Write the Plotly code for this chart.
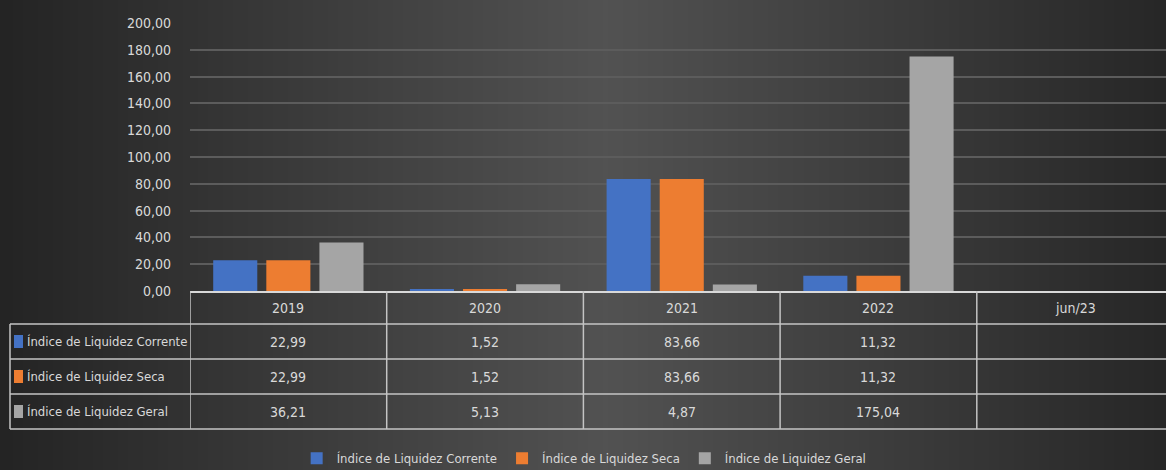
import base64, struct, zlib
import plotly.graph_objects as go

# ---------------- data ----------------
categories = ["2019", "2020", "2021", "2022", "jun/23"]
series_names = ["Índice de Liquidez Corrente", "Índice de Liquidez Seca", "Índice de Liquidez Geral"]
corrente = [22.99, 1.52, 83.66, 11.32, None]
seca = [22.99, 1.52, 83.66, 11.32, None]
geral = [36.21, 5.13, 4.87, 175.04, None]
series_values = [corrente, seca, geral]
colors = ["#4472c4", "#ed7d31", "#a5a5a5"]
y_ticks = list(range(0, 201, 20))

# ---------------- layout geometry (pixels) ----------------
W, H = 1166, 470
PL, PR_EDGE = 190, 1166          # plot area left / right in px
PT, PB = 23, 291                 # plot area top / bottom in px
PW, PH = PR_EDGE - PL, PB - PT
CATW = 196.7                     # category width in px
TABLE_LEFT = 10
ROW_LINES = [324, 359, 394, 429]
ROW_CENTERS = [341.5, 376.5, 411.5]
HEADER_CENTER = 307.5
FONT = "Liberation Sans Narrow, DejaVu Sans Condensed, Arial Narrow, sans-serif"
TXT = "#d9d9d9"
LINE = "#c4c4c4"


def px_x(p):
    return (p - PL) / PW


def px_y(p):
    return (PB - p) / PH


def fmt(v):
    return "" if v is None else f"{v:.2f}".replace(".", ",")


# ---------------- background gradient image ----------------
def make_png(w, h, pix):
    raw = b"".join(b"\x00" + bytes(row) for row in pix)

    def chunk(t, d):
        c = struct.pack(">I", len(d)) + t + d
        return c + struct.pack(">I", zlib.crc32(t + d) & 0xFFFFFFFF)

    return (b"\x89PNG\r\n\x1a\n" + chunk(b"IHDR", struct.pack(">IIBBBBB", w, h, 8, 2, 0, 0, 0))
            + chunk(b"IDAT", zlib.compress(raw)) + chunk(b"IEND", b""))


GW, GH = 233, 2
stops = [(0.0, 0x24), (0.52, 0x52), (1.0, 0x27)]
pix = []
for r in range(GH):
    row = []
    for c in range(GW):
        t = c / (GW - 1)
        for (t0, v0), (t1, v1) in zip(stops[:-1], stops[1:]):
            if t0 <= t <= t1:
                v = int(round(v0 + (v1 - v0) * (t - t0) / (t1 - t0)))
                break
        row += [v, v, v]
    pix.append(row)
bg_uri = "data:image/png;base64," + base64.b64encode(make_png(GW, GH, pix)).decode()

# ---------------- figure ----------------
fig = go.Figure()
for name, vals, col in zip(series_names, series_values, colors):
    fig.add_trace(go.Bar(x=categories, y=vals, name=name, marker=dict(color=col, line=dict(width=0))))

n_vis = PW / CATW
fig.update_layout(
    width=W, height=H,
    margin=dict(l=PL, r=W - PR_EDGE, t=PT, b=H - PB, pad=0),
    paper_bgcolor="#333333", plot_bgcolor="rgba(0,0,0,0)",
    separators=",.",
    barmode="group", bargap=0.19, bargroupgap=0.17,
    font=dict(family=FONT, size=14, color=TXT),
    xaxis=dict(type="category", categoryorder="array", categoryarray=categories,
               range=[-0.5, -0.5 + n_vis], showticklabels=False, showgrid=False,
               showline=True, linecolor="#d9d9d9", linewidth=2, ticks="", zeroline=False, fixedrange=True),
    yaxis=dict(range=[0, 200], tickvals=y_ticks, tickformat=".2f", showgrid=True,
               gridcolor="#5c5c5c", gridwidth=1.5, zeroline=False, showline=False,
               ticks="", ticklabelstandoff=18, tickfont=dict(family=FONT, size=14, color=TXT)),
    showlegend=True,
    legend=dict(orientation="h", xref="container", yref="container", x=0.501, y=0.025,
                xanchor="center", yanchor="middle", font=dict(family=FONT, size=13, color=TXT),
                bgcolor="rgba(0,0,0,0)", itemwidth=30, traceorder="normal"),
    images=[dict(source=bg_uri, xref="paper", yref="paper", x=px_x(0), y=px_y(0),
                 sizex=W / PW, sizey=H / PH, xanchor="left", yanchor="top",
                 sizing="stretch", layer="below")],
)

shapes = []
# vertical lines of the data table (category boundaries)
for i in range(len(categories) + 1):
    shapes.append(dict(type="line", xref="x", yref="paper", x0=i - 0.5, x1=i - 0.5,
                       y0=px_y(PB), y1=px_y(ROW_LINES[-1]), line=dict(color=LINE, width=1.5)))
# left border of row-label column
shapes.append(dict(type="line", xref="paper", yref="paper", x0=px_x(TABLE_LEFT), x1=px_x(TABLE_LEFT),
                   y0=px_y(ROW_LINES[0]), y1=px_y(ROW_LINES[-1]), line=dict(color=LINE, width=1.5)))
# horizontal row lines
for yl in ROW_LINES:
    shapes.append(dict(type="line", xref="paper", yref="paper", x0=px_x(TABLE_LEFT), x1=1.05,
                       y0=px_y(yl), y1=px_y(yl), line=dict(color=LINE, width=1.5)))
# legend keys inside the table
for yc, col in zip(ROW_CENTERS, colors):
    shapes.append(dict(type="rect", xref="paper", yref="paper", x0=px_x(14), x1=px_x(23),
                       y0=px_y(yc + 6.5), y1=px_y(yc - 6.5), fillcolor=col, line=dict(width=0)))
fig.update_layout(shapes=shapes)

ann = []
for i, c in enumerate(categories):
    ann.append(dict(x=i, xref="x", y=px_y(HEADER_CENTER), yref="paper", text=c, showarrow=False,
                    xanchor="center", yanchor="middle", font=dict(family=FONT, size=14, color=TXT)))
for name, vals, yc in zip(series_names, series_values, ROW_CENTERS):
    ann.append(dict(x=px_x(25), xref="paper", y=px_y(yc), yref="paper", text=name, showarrow=False,
                    xanchor="left", yanchor="middle", font=dict(family=FONT, size=13, color=TXT)))
    for i, v in enumerate(vals):
        if v is None:
            continue
        ann.append(dict(x=i, xref="x", y=px_y(yc), yref="paper", text=fmt(v), showarrow=False,
                        xanchor="center", yanchor="middle", font=dict(family=FONT, size=14, color=TXT)))
fig.update_layout(annotations=ann)

fig.write_html("out.html", config={"displayModeBar": False},
               post_script="document.body.style.margin='0px';")
